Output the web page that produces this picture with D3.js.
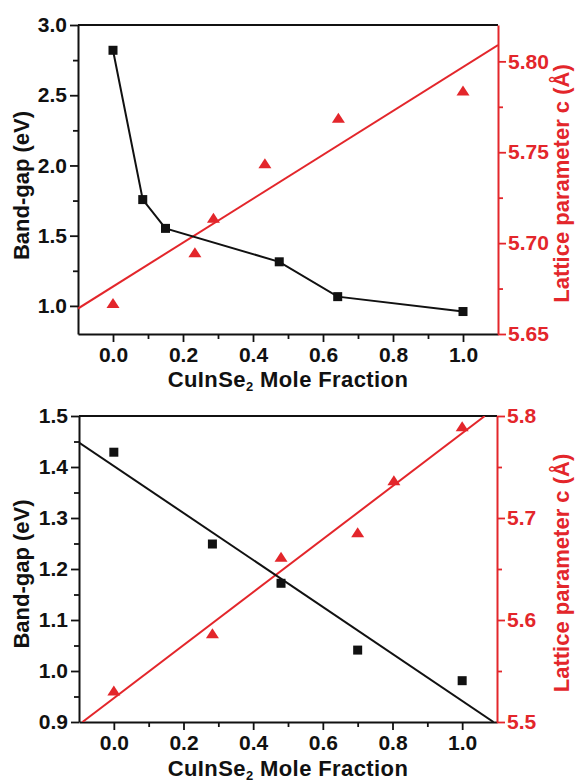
<!DOCTYPE html>
<html>
<head>
<meta charset="utf-8">
<script src="https://cdn.jsdelivr.net/npm/d3@7"></script>
<style>
  html, body { margin: 0; padding: 0; background: #fff; }
  svg { display: block; }
  text { font-family: "Liberation Sans", Arial, sans-serif; font-weight: bold; }
</style>
</head>
<body>
<div id="chart"></div>
<script>
// ---------- DATA ----------
// Top panel
const topGapX   = [0, 0.085, 0.15, 0.475, 0.642, 1.0];
const topGap    = [2.82, 1.757, 1.552, 1.314, 1.066, 0.96];
const topLatX   = [0, 0.234, 0.287, 0.434, 0.644, 1.0];
const topLat    = [5.667, 5.695, 5.714, 5.744, 5.769, 5.784];
const topLatFitX = [-0.1, 1.1];
const topLatFit  = [5.664, 5.809];
// Bottom panel
const botGapX   = [0, 0.283, 0.48, 0.70, 1.0];
const botGap    = [1.429, 1.249, 1.172, 1.041, 0.981];
const botGapFitX = [-0.1, 1.09];
const botGapFit  = [1.448, 0.9];
const botLatX   = [0, 0.283, 0.48, 0.70, 0.804, 1.0];
const botLat    = [5.531, 5.587, 5.662, 5.686, 5.737, 5.79];
const botLatFitX = [-0.09, 1.065];
const botLatFit  = [5.5, 5.8];
// Ticks
const xTicks      = [0, 0.2, 0.4, 0.6, 0.8, 1.0];
const xMinor      = [0.1, 0.3, 0.5, 0.7, 0.9];
const topGapTicks = [1.0, 1.5, 2.0, 2.5, 3.0];
const topGapMinor = [1.25, 1.75, 2.25, 2.75];
const topLatTicks = [5.65, 5.70, 5.75, 5.80];
const topLatMinor = [5.675, 5.725, 5.775];
const botGapTicks = [0.9, 1.0, 1.1, 1.2, 1.3, 1.4, 1.5];
const botGapMinor = [0.95, 1.05, 1.15, 1.25, 1.35, 1.45];
const botLatTicks = [5.5, 5.6, 5.7, 5.8];
const botLatMinor = [5.55, 5.65, 5.75];
// Labels
const yLeftLabel  = "Band-gap (eV)";
const yRightLabel = "Lattice parameter c (Å)";
const xLabelMain  = "CuInSe";
const xLabelSub   = "2";
const xLabelRest  = " Mole Fraction";

// ---------- STYLE ----------
const W = 575, H = 783;
const RED = "#e3262b";
const BLACK = "#111";

const svg = d3.select("#chart").append("svg").attr("width", W).attr("height", H);

function panel(cfg) {
  const { left, right, top, bottom } = cfg;
  const x = d3.scaleLinear().domain([-0.1, 1.1]).range([left, right]);
  const yL = d3.scaleLinear().domain(cfg.gapDomain).range([bottom, top]);
  const yR = d3.scaleLinear().domain(cfg.latDomain).range([bottom, top]);
  const g = svg.append("g");

  // top frame line
  g.append("line").attr("x1", left).attr("x2", right).attr("y1", top).attr("y2", top)
    .attr("stroke", BLACK).attr("stroke-width", 2);

  const styleAxis = (sel, color) => {
    sel.selectAll("path.domain").attr("stroke", color).attr("stroke-width", 2);
    sel.selectAll(".tick line").attr("stroke", color).attr("stroke-width", 1.8);
    sel.selectAll(".tick text").attr("fill", color)
      .style("font-size", "21px").style("font-weight", "bold")
      .style("font-family", '"Liberation Sans", Arial, sans-serif');
  };
  const minorStyle = (s, color) => {
    s.select(".domain").remove();
    s.selectAll(".tick line").attr("stroke", color).attr("stroke-width", 1.8);
  };

  // minor ticks
  g.append("g").attr("transform", `translate(0,${bottom})`)
    .call(d3.axisBottom(x).tickValues(xMinor).tickSize(5).tickFormat(""))
    .call(s => minorStyle(s, BLACK));
  g.append("g").attr("transform", `translate(${left},0)`)
    .call(d3.axisLeft(yL).tickValues(cfg.gapMinor).tickSize(5).tickFormat(""))
    .call(s => minorStyle(s, BLACK));
  g.append("g").attr("transform", `translate(${right},0)`)
    .call(d3.axisRight(yR).tickValues(cfg.latMinor).tickSize(5).tickFormat(""))
    .call(s => minorStyle(s, RED));

  // major axes
  g.append("g").attr("transform", `translate(0,${bottom})`)
    .call(d3.axisBottom(x).tickValues(xTicks).tickSize(8).tickSizeOuter(0).tickPadding(5).tickFormat(d3.format(".1f")))
    .call(s => styleAxis(s, BLACK));
  g.append("g").attr("transform", `translate(${left},0)`)
    .call(d3.axisLeft(yL).tickValues(cfg.gapTicks).tickSize(8).tickSizeOuter(0).tickPadding(3).tickFormat(d3.format(".1f")))
    .call(s => styleAxis(s, BLACK));
  g.append("g").attr("transform", `translate(${right},0)`)
    .call(d3.axisRight(yR).tickValues(cfg.latTicks).tickSize(8).tickSizeOuter(0).tickPadding(2).tickFormat(d3.format(cfg.latFmt)))
    .call(s => styleAxis(s, RED));

  // clip
  const clipId = "clip" + cfg.id;
  svg.append("clipPath").attr("id", clipId).append("rect")
    .attr("x", left).attr("y", top).attr("width", right - left).attr("height", bottom - top);
  const plot = g.append("g").attr("clip-path", `url(#${clipId})`);

  // red fit line
  const latFit = cfg.latFitX.map((v, i) => [v, cfg.latFit[i]]);
  plot.append("path").datum(latFit)
    .attr("d", d3.line().x(d => x(d[0])).y(d => yR(d[1])))
    .attr("fill", "none").attr("stroke", RED).attr("stroke-width", 2);

  // black line
  const gapLine = cfg.gapLineX.map((v, i) => [v, cfg.gapLine[i]]);
  plot.append("path").datum(gapLine)
    .attr("d", d3.line().x(d => x(d[0])).y(d => yL(d[1])))
    .attr("fill", "none").attr("stroke", BLACK).attr("stroke-width", 2);

  // squares
  const gapPts = cfg.gapX.map((v, i) => [v, cfg.gap[i]]);
  const sq = 9;
  g.append("g").selectAll("rect").data(gapPts).join("rect")
    .attr("x", d => x(d[0]) - sq / 2).attr("y", d => yL(d[1]) - sq / 2)
    .attr("width", sq).attr("height", sq).attr("fill", BLACK);

  // triangles
  const latPts = cfg.latX.map((v, i) => [v, cfg.lat[i]]);
  const tw = 13, th = 10;
  g.append("g").selectAll("path").data(latPts).join("path")
    .attr("d", d => {
      const cx = x(d[0]), cy = yR(d[1]);
      return `M${cx},${cy - th / 2}L${cx + tw / 2},${cy + th / 2}L${cx - tw / 2},${cy + th / 2}Z`;
    })
    .attr("fill", RED);

  // titles
  const cy = (top + bottom) / 2;
  svg.append("text")
    .attr("transform", `translate(29,${cy + cfg.lOff}) rotate(-90)`)
    .attr("text-anchor", "middle").attr("fill", BLACK).style("font-size", "22px")
    .text(yLeftLabel);
  svg.append("text")
    .attr("transform", `translate(569,${cy + cfg.rOff}) rotate(-90)`)
    .attr("text-anchor", "middle").attr("fill", RED).style("font-size", "22px")
    .text(yRightLabel);
  const xt = svg.append("text")
    .attr("x", (left + right) / 2).attr("y", bottom + cfg.xTitleOff)
    .attr("text-anchor", "middle").attr("fill", BLACK)
    .style("font-size", "22px").style("letter-spacing", "0.4px");
  xt.append("tspan").text(xLabelMain);
  xt.append("tspan").attr("dy", 4).style("font-size", "13px").text(xLabelSub);
  xt.append("tspan").attr("dy", -4).text(xLabelRest);
}

panel({
  id: "top", left: 78, right: 498, top: 25, bottom: 334,
  gapDomain: [0.8, 3.0], latDomain: [5.65, 5.82],
  gapTicks: topGapTicks, gapMinor: topGapMinor,
  latTicks: topLatTicks, latMinor: topLatMinor, latFmt: ".2f",
  gapX: topGapX, gap: topGap, gapLineX: topGapX, gapLine: topGap,
  latX: topLatX, lat: topLat, latFitX: topLatFitX, latFit: topLatFit,
  lOff: 6, rOff: 4, xTitleOff: 53
});
panel({
  id: "bot", left: 79, right: 497, top: 416, bottom: 722,
  gapDomain: [0.9, 1.5], latDomain: [5.5, 5.8],
  gapTicks: botGapTicks, gapMinor: botGapMinor,
  latTicks: botLatTicks, latMinor: botLatMinor, latFmt: ".1f",
  gapX: botGapX, gap: botGap, gapLineX: botGapFitX, gapLine: botGapFit,
  latX: botLatX, lat: botLat, latFitX: botLatFitX, latFit: botLatFit,
  lOff: 5, rOff: 4, xTitleOff: 54
});
</script>
</body>
</html>
